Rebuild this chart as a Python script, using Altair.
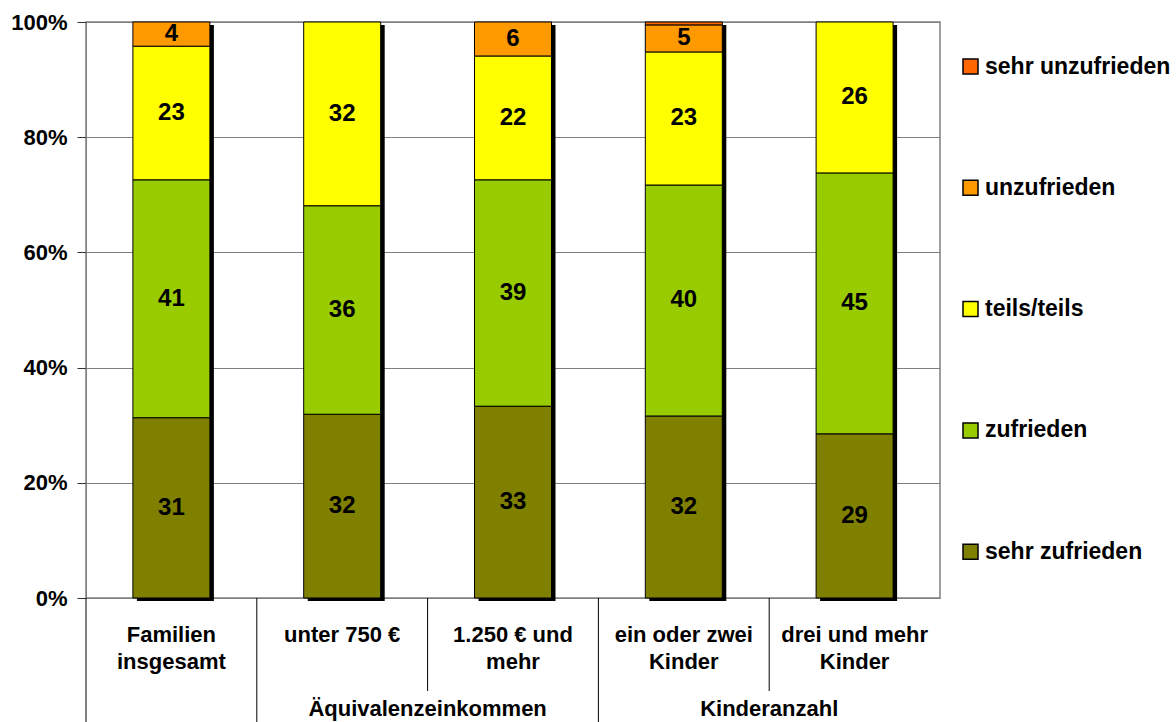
import altair as alt
import pandas as pd

# ---- data ----
categories = ["Familien\ninsgesamt", "unter 750 €", "1.250 € und\nmehr",
              "ein oder zwei\nKinder", "drei und mehr\nKinder"]
levels = ["sehr zufrieden", "zufrieden", "teils/teils", "unzufrieden", "sehr unzufrieden"]
colors = ["#808000", "#99CC00", "#FFFF00", "#FF9900", "#FF6600"]

# segment heights (percent of bar) as drawn
sehr_zufrieden = [31.3, 31.9, 33.3, 31.6, 28.5]
zufrieden = [41.3, 36.2, 39.3, 40.1, 45.3]
teils_teils = [23.2, 31.9, 21.5, 23.1, 26.2]
unzufrieden = [4.2, 0.0, 5.9, 4.7, 0.0]
sehr_unzufrieden = [0.0, 0.0, 0.0, 0.5, 0.0]

# printed labels
lab_sehr_zufrieden = [31, 32, 33, 32, 29]
lab_zufrieden = [41, 36, 39, 40, 45]
lab_teils = [23, 32, 22, 23, 26]
lab_unzufrieden = [4, None, 6, 5, None]
lab_sehr_unzufrieden = [None, None, None, None, None]

groups = ["Äquivalenzeinkommen", "Kinderanzahl"]
group_start = ["1.250 € und\nmehr", "drei und mehr\nKinder"]  # group label centred at this band's left edge
sep_full = ["Familien\ninsgesamt", "unter 750 €", "ein oder zwei\nKinder"]
sep_short = ["1.250 € und\nmehr", "drei und mehr\nKinder"]

series = [sehr_zufrieden, zufrieden, teils_teils, unzufrieden, sehr_unzufrieden]
labels = [lab_sehr_zufrieden, lab_zufrieden, lab_teils, lab_unzufrieden, lab_sehr_unzufrieden]

rows = []
for j, lev in enumerate(levels):
    for i, cat in enumerate(categories):
        rows.append({"cat": cat, "level": lev, "rank": j,
                     "value": series[j][i],
                     "label": None if labels[j][i] is None else str(labels[j][i])})
df = pd.DataFrame(rows)
df = df[df["value"] > 0]

FONT = "Liberation Sans"

xscale = alt.Scale(domain=categories, paddingInner=0, paddingOuter=0)
yscale = alt.Scale(domain=[0, 100], nice=False)

legend_order = list(reversed(levels))
legend_colors = list(reversed(colors))

base = alt.Chart(df)

shadow = base.transform_aggregate(
    total="sum(value)", groupby=["cat"]
).mark_bar(color="black", width=77, xOffset=4, yOffset=3).encode(
    x=alt.X("cat:N", scale=xscale, axis=None),
    y=alt.Y("total:Q", scale=yscale),
)

bars = base.mark_bar(stroke="black", strokeWidth=1, width=77).encode(
    x=alt.X("cat:N", scale=xscale,
            axis=alt.Axis(labels=False, ticks=False, title=None, domainColor="black",
                          domainWidth=1.5, grid=False)),
    y=alt.Y("value:Q", stack="zero", scale=yscale,
            axis=alt.Axis(values=[0, 20, 40, 60, 80, 100], labelExpr="datum.value + '%'",
                          labelFont=FONT, labelFontSize=22, labelFontWeight="bold",
                          labelColor="black", tickSize=9, tickColor="#333333",
                          domainColor="#808080", gridColor="#808080", title=None,
                          labelPadding=10)),
    color=alt.Color("level:N",
                    scale=alt.Scale(domain=legend_order, range=legend_colors),
                    legend=alt.Legend(title=None, orient="none", legendX=873, legendY=33,
                                      symbolType="square", symbolSize=225,
                                      symbolStrokeColor="black", symbolStrokeWidth=1.5,
                                      labelFont=FONT, labelFontSize=23, labelFontWeight="bold",
                                      labelColor="black", rowPadding=97.3, labelOffset=3,
                                      labelLimit=300)),
    order=alt.Order("rank:Q"),
)

text = base.transform_filter("datum.label != null").transform_stack(
    stack="value", groupby=["cat"], as_=["y0", "y1"], sort=[alt.SortField("rank")]
).transform_calculate(mid="(datum.y0 + datum.y1) / 2").mark_text(
    font=FONT, fontSize=24, fontWeight="bold", color="black", baseline="middle"
).encode(
    x=alt.X("cat:N", scale=xscale),
    y=alt.Y("mid:Q", scale=yscale),
    text="label:N",
)

cat_df = pd.DataFrame({"cat": categories})
cat_text = alt.Chart(cat_df).mark_text(
    font=FONT, fontSize=22, fontWeight="bold", color="black", baseline="top",
    lineBreak="\n", lineHeight=27
).encode(x=alt.X("cat:N", scale=xscale), y=alt.value(603), text="cat:N")

grp_df = pd.DataFrame({"cat": group_start, "group": groups})
grp_text = alt.Chart(grp_df).mark_text(
    font=FONT, fontSize=22, fontWeight="bold", color="black", baseline="alphabetic"
).encode(x=alt.X("cat:N", scale=xscale, bandPosition=0), y=alt.value(694), text="group:N")

full_df = pd.DataFrame({"cat": sep_full})
short_df = pd.DataFrame({"cat": sep_short})
sep1 = alt.Chart(full_df).mark_rule(color="black", strokeWidth=1).encode(
    x=alt.X("cat:N", scale=xscale, bandPosition=0), y=alt.value(576), y2=alt.value(700))
sep2 = alt.Chart(short_df).mark_rule(color="black", strokeWidth=1).encode(
    x=alt.X("cat:N", scale=xscale, bandPosition=0), y=alt.value(576), y2=alt.value(669))

chart = alt.layer(shadow, bars, text, cat_text, grp_text, sep1, sep2).properties(
    width=854, height=576,
    autosize=alt.AutoSizeParams(type="none"),
    padding={"left": 86, "top": 22, "right": 236, "bottom": 124},
).configure_view(stroke="#808080", strokeWidth=1.5).configure_axis(gridWidth=1)

chart.save("out.html", embed_options={"renderer": "svg", "actions": False})
